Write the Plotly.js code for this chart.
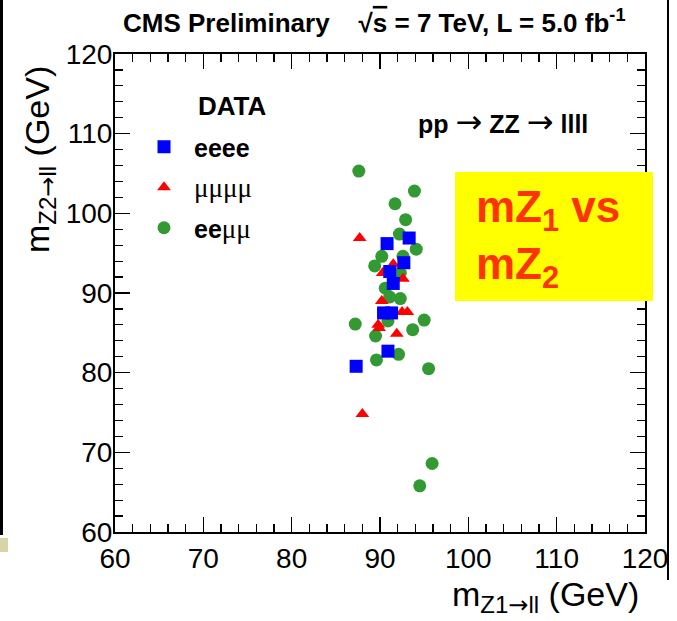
<!DOCTYPE html>
<html>
<head>
<meta charset="utf-8">
<script src="https://cdn.plot.ly/plotly-3.0.1.min.js"></script>
<style>html,body{margin:0;padding:0;background:#fff;}#plot{width:677px;height:621px;}</style>
</head>
<body>
<div id="plot"></div>
<script>
// eeee (blue squares)
var eeeeX = [90.8, 93.3, 92.7, 91.1, 91.5, 90.4, 91.3, 90.9, 87.3];
var eeeeY = [96.2, 96.9, 93.8, 92.7, 91.2, 87.5, 87.5, 82.7, 80.8];
// mumumumu (red triangles)
var mmmmX = [87.7, 91.5, 90.3, 92.6, 90.2, 92.5, 93.1, 89.8, 89.9, 91.9, 88.0];
var mmmmY = [96.9, 93.6, 92.5, 91.8, 89.0, 87.6, 87.6, 86.0, 85.6, 84.9, 74.8];
// eemumu (green circles)
var eemmX = [87.6, 93.9, 91.7, 92.9, 92.2, 94.1, 90.2, 92.6, 89.4, 92.3, 90.6, 92.3, 91.1, 87.2, 95.0, 90.9, 89.5, 93.7, 92.1, 89.6, 95.5, 95.9, 94.5];
var eemmY = [105.3, 102.8, 101.2, 99.2, 97.4, 95.5, 94.6, 94.6, 93.4, 92.5, 90.6, 89.3, 89.5, 86.1, 86.6, 86.5, 84.6, 85.4, 82.3, 81.6, 80.5, 68.6, 65.8];

var xTicks = [60, 70, 80, 90, 100, 110, 120];
var yTicks = [60, 70, 80, 90, 100, 110, 120];

var W = 677, H = 621;
var L = 115, R = 645, T = 54, B = 532;
function px(x) { return (x - L) / (R - L); }
function py(y) { return (B - y) / (B - T); }

var MU = '<span style="font-family:Liberation Serif;font-weight:normal;font-size:27px">';
var ARR = '<span style="font-family:DejaVu Sans">→</span>';
var ARRB = '<span style="font-family:DejaVu Sans;font-weight:normal;font-size:32px">→</span>';
var traces = [
  {x: eemmX, y: eemmY, type: 'scatter', mode: 'markers', name: '<b>ee</b>' + MU + 'μμ</span>',
   legendgroup: 'c', legendrank: 3,
   marker: {symbol: 'circle', size: 13, color: '#339933'}},
  {x: mmmmX, y: mmmmY, type: 'scatter', mode: 'markers', name: MU + 'μμμμ</span>',
   legendgroup: 'b', legendrank: 2,
   marker: {symbol: 'triangle-up', size: 12, color: '#ff0000'}},
  {x: eeeeX, y: eeeeY, type: 'scatter', mode: 'markers', name: '<b>eeee</b>',
   legendgroup: 'a', legendrank: 1,
   marker: {symbol: 'square', size: 13, color: '#0000ff'}}
];

var axisCommon = {
  range: [60, 120], showgrid: false, zeroline: false,
  showline: true, linecolor: '#000', linewidth: 2, mirror: 'ticks',
  ticks: 'inside', ticklen: 15, tickwidth: 1.3, tickcolor: '#000',
  tickmode: 'array',
  tickfont: {family: 'Liberation Sans, Arial, sans-serif', size: 28, color: '#000'},
  minor: {dtick: 2, ticks: 'inside', ticklen: 8, tickwidth: 1.2, tickcolor: '#000', showgrid: false}
};

var layout = {
  width: W, height: H,
  margin: {l: L, r: W - R, t: T, b: H - B, pad: 0},
  paper_bgcolor: '#fff', plot_bgcolor: '#fff',
  font: {family: 'Liberation Sans, Arial, sans-serif', color: '#000'},
  xaxis: Object.assign({}, axisCommon, {tickvals: xTicks, ticktext: xTicks.map(String)}),
  yaxis: Object.assign({}, axisCommon, {tickvals: yTicks, ticktext: yTicks.map(String), ticklabelstandoff: -5}),
  showlegend: true,
  legend: {
    x: px(134), y: py(124), xanchor: 'left', yanchor: 'top',
    bgcolor: 'rgba(0,0,0,0)', borderwidth: 0,
    font: {family: 'Liberation Sans, Arial, sans-serif', size: 25, color: '#000'},
    traceorder: 'grouped', tracegroupgap: 5, itemwidth: 50
  },
  shapes: [
    {type: 'rect', xref: 'paper', yref: 'paper', x0: px(455), x1: px(653), y0: py(301), y1: py(172),
     fillcolor: '#ffff00', line: {width: 0}, layer: 'above'},
    {type: 'line', xref: 'paper', yref: 'paper', x0: px(1.5), x1: px(1.5), y0: py(0), y1: py(535),
     line: {color: '#000', width: 3}},
    {type: 'rect', xref: 'paper', yref: 'paper', x0: px(0), x1: px(8), y0: py(552), y1: py(538),
     fillcolor: '#d8d4a8', line: {width: 0}},
    {type: 'line', xref: 'paper', yref: 'paper', x0: px(668), x1: px(668), y0: py(0), y1: py(580),
     line: {color: '#000', width: 2}}
  ],
  annotations: [
    {xref: 'paper', yref: 'paper', x: px(121), y: py(21), xanchor: 'left', yanchor: 'middle', showarrow: false,
     text: '<b>CMS Preliminary&nbsp;&nbsp;&nbsp;&nbsp;√<span style="text-decoration:overline">s</span> = 7 TeV, L = 5.0 fb<sup>-1</sup></b>',
     font: {size: 26, color: '#000'}},
    {xref: 'paper', yref: 'paper', x: px(40), y: py(160), xanchor: 'center', yanchor: 'middle', showarrow: false,
     textangle: -90, text: 'm<sub><span style="font-size:24px">Z2' + ARR + 'll</span></sub> (GeV)', font: {size: 34, color: '#000'}},
    {xref: 'paper', yref: 'paper', x: px(641), y: py(597), xanchor: 'right', yanchor: 'middle', showarrow: false,
     text: 'm<sub><span style="font-size:24px">Z1' + ARR + 'll</span></sub> (GeV)', font: {size: 34, color: '#000'}},
    {xref: 'paper', yref: 'paper', x: px(196), y: py(106), xanchor: 'left', yanchor: 'middle', showarrow: false,
     text: '<b>DATA</b>', font: {size: 26, color: '#000'}},
    {xref: 'paper', yref: 'paper', x: px(416), y: py(122), xanchor: 'left', yanchor: 'middle', showarrow: false,
     text: '<b>pp ' + ARRB + ' ZZ ' + ARRB + ' llll</b>', font: {size: 25, color: '#000'}},
    {xref: 'paper', yref: 'paper', x: px(474), y: py(238), xanchor: 'left', yanchor: 'middle', showarrow: false,
     align: 'left', text: '<b>mZ<sub>1</sub> vs<br>mZ<sub>2</sub></b>', font: {size: 44, color: '#ff3300'}}
  ]
};

Plotly.newPlot('plot', traces, layout, {displayModeBar: false, staticPlot: true});
</script>
</body>
</html>
